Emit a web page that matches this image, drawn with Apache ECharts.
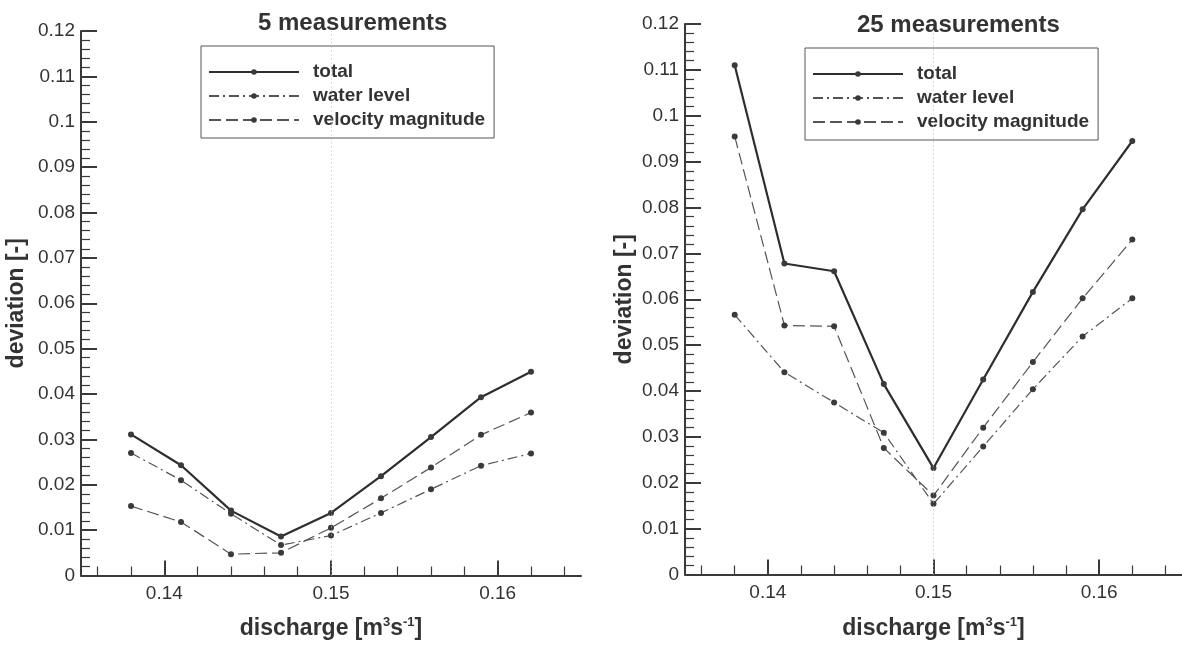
<!DOCTYPE html>
<html><head><meta charset="utf-8">
<script src="https://cdn.jsdelivr.net/npm/echarts@6/dist/echarts.min.js"></script>
<style>html,body{margin:0;padding:0;background:#fff}#c{width:1182px;height:645px}</style>
</head><body><div id="c"></div>
<script>
// ---- data ----
const discharge = [0.138, 0.141, 0.144, 0.147, 0.150, 0.153, 0.156, 0.159, 0.162];
const total5 = [0.0311, 0.0243, 0.0143, 0.0086, 0.0138, 0.0219, 0.0305, 0.0393, 0.0449];
const water5 = [0.0270, 0.0210, 0.0136, 0.0067, 0.0088, 0.0138, 0.0190, 0.0242, 0.0269];
const veloc5 = [0.0153, 0.0118, 0.0047, 0.0050, 0.0105, 0.0170, 0.0238, 0.0310, 0.0359];
const total25 = [0.1110, 0.0678, 0.0661, 0.0415, 0.0232, 0.0425, 0.0616, 0.0796, 0.0945];
const water25 = [0.0566, 0.0441, 0.0375, 0.0309, 0.0154, 0.0279, 0.0404, 0.0519, 0.0602];
const veloc25 = [0.0955, 0.0543, 0.0541, 0.0276, 0.0172, 0.0320, 0.0463, 0.0602, 0.0730];
const xMajorTicks = [0.14, 0.15, 0.16];
const xMinorTicks = [0.136, 0.138, 0.142, 0.144, 0.146, 0.148, 0.152, 0.154, 0.156, 0.158, 0.162, 0.164];
const seriesNames = ['total', 'water level', 'velocity magnitude'];
const chartTitles = ['5 measurements', '25 measurements'];
const xName = 'discharge [m{sup|3}s{sup|-1}]';
const yName = 'deviation [-]';

// ---- styles ----
const FONT = '"Liberation Sans", Arial, Helvetica, sans-serif';
const AX = '#3a3a3a';
const lineStyles = [
  {color: '#2e2e2e', width: 2.2, type: 'solid'},
  {color: '#555', width: 1.2, type: [10, 4, 2, 4]},
  {color: '#555', width: 1.2, type: [12, 5]}
];
const grids = [
  {left: 81, top: 31, width: 500, height: 559},
  {left: 685, top: 24, width: 500, height: 558.6}
];
const pairs = (ys) => discharge.map((x, i) => [x, ys[i]]);

const xAxes = [], yAxes = [], series = [], legends = [], titles = [];
const dataSets = [[total5, water5, veloc5], [total25, water25, veloc25]];
const titlePos = [{left: 253, top: 6}, {left: 852, top: 8}];
const legendPos = [{left: 201, top: 46}, {left: 805, top: 48}];
const yGap = [53, 49];
const xGap = [40, 41];

grids.forEach((g, gi) => {
  xAxes.push({
    type: 'value', gridIndex: gi, min: 0.135, max: 0.165, position: 'bottom',
    axisLine: {show: true, onZero: false, lineStyle: {color: AX, width: 2}},
    axisTick: {show: true, inside: true, length: 15, customValues: xMajorTicks, lineStyle: {color: AX, width: 2}},
    axisLabel: {show: true, customValues: xMajorTicks, margin: 9, fontFamily: FONT, fontSize: 19, color: '#333',
      formatter: v => v.toFixed(2)},
    splitLine: {show: false},
    name: xName, nameLocation: 'middle', nameGap: xGap[gi],
    nameTextStyle: {fontFamily: FONT, fontSize: 23, fontWeight: 'bold', color: '#333',
      rich: {sup: {fontFamily: FONT, fontSize: 13, fontWeight: 'bold', color: '#333', verticalAlign: 'top', lineHeight: 26}}}
  });
  xAxes.push({
    type: 'value', gridIndex: gi, min: 0.135, max: 0.165, position: 'bottom',
    axisLine: {show: false},
    axisTick: {show: true, inside: true, length: 9, customValues: xMinorTicks, lineStyle: {color: AX, width: 1.2}},
    axisLabel: {show: false}, splitLine: {show: false}
  });
  yAxes.push({
    type: 'value', gridIndex: gi, min: 0, max: 0.12, interval: 0.01,
    axisLine: {show: true, lineStyle: {color: AX, width: 2}},
    axisTick: {show: true, inside: true, length: 16, lineStyle: {color: AX, width: 2}},
    minorTick: {show: true, splitNumber: 5, length: 9, lineStyle: {color: AX, width: 1.2}},
    axisLabel: {margin: 6, fontFamily: FONT, fontSize: 19, color: '#333'},
    splitLine: {show: false},
    name: yName, nameLocation: 'middle', nameRotate: 90, nameGap: yGap[gi],
    nameTextStyle: {fontFamily: FONT, fontSize: 23, fontWeight: 'bold', color: '#333'}
  });
  dataSets[gi].forEach((arr, si) => {
    const s = {
      name: seriesNames[si], type: 'line', xAxisIndex: gi * 2, yAxisIndex: gi,
      data: pairs(arr), symbol: 'circle', symbolSize: 6, showSymbol: true,
      lineStyle: lineStyles[si], itemStyle: {color: '#3a3a3a'},
      z: 3 - si, animation: false
    };
    if (si === 0) {
      s.markLine = {symbol: 'none', silent: true, animation: false, label: {show: false},
        lineStyle: {type: [1, 3], color: '#bbb', width: 1}, data: [{xAxis: 0.15}]};
    }
    series.push(s);
  });
  legends.push({
    left: legendPos[gi].left, top: legendPos[gi].top, orient: 'vertical',
    data: seriesNames, itemWidth: 90, itemHeight: 7, itemGap: 4,
    padding: [16, 9, 8, 7], borderColor: '#555', borderWidth: 1, backgroundColor: '#fff',
    selectedMode: false,
    textStyle: {fontFamily: FONT, fontSize: 19, fontWeight: 'bold', color: '#333', lineHeight: 20, padding: [0, 0, 0, 9]}
  });
  titles.push({text: chartTitles[gi], left: titlePos[gi].left, top: titlePos[gi].top,
    textStyle: {fontFamily: FONT, fontSize: 24, fontWeight: 'bold', color: '#333'}});
});

const chart = echarts.init(document.getElementById('c'), null, {renderer: 'canvas'});
chart.setOption({
  backgroundColor: '#fff', animation: false,
  title: titles, legend: legends, grid: grids, xAxis: xAxes, yAxis: yAxes, series: series
});
</script></body></html>
